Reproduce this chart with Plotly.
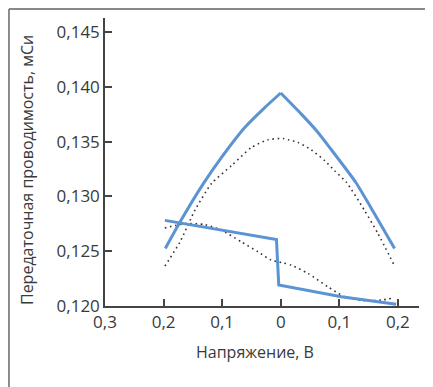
import plotly.graph_objects as go

# --- data (voltage, V ; transconductance, mS) ---
upper_solid_x = [-0.197, -0.172, -0.1324, -0.1011, -0.0614, -0.0273, 0.0, 0.0352, 0.0636, 0.092, 0.128, 0.160, 0.1943]
upper_solid_y = [0.12525, 0.12766, 0.13115, 0.13357, 0.13630, 0.13812, 0.13945, 0.13752, 0.13585, 0.13388, 0.1313, 0.12843, 0.12525]

upper_dot_x = [-0.1977, -0.172, -0.1466, -0.118, -0.084, -0.050, -0.0216, 0.004, 0.0125, 0.0295, 0.0523, 0.075, 0.092, 0.112, 0.143, 0.166, 0.193]
upper_dot_y = [0.12364, 0.12585, 0.12873, 0.1312, 0.13282, 0.13448, 0.13518, 0.1353, 0.13518, 0.13494, 0.13425, 0.13327, 0.13236, 0.1313, 0.12873, 0.12661, 0.12379]

lower_solid_x = [-0.1977, -0.0073, -0.0034, 0.05, 0.1034, 0.197]
lower_solid_y = [0.12782, 0.12606, 0.12191, 0.12136, 0.12085, 0.12015]

lower_dot_x = [-0.198, -0.1636, -0.1295, -0.101, -0.067, -0.0387, -0.0159, 0.004, 0.018, 0.0466, 0.0806, 0.109, 0.143, 0.172, 0.189]
lower_dot_y = [0.12712, 0.12752, 0.12743, 0.12691, 0.12585, 0.12494, 0.12418, 0.12394, 0.12373, 0.12297, 0.12175, 0.12085, 0.12048, 0.12055, 0.1207]

x_tick_vals = [-0.3, -0.2, -0.1, 0.0, 0.1, 0.2]
x_tick_text = ["0,3", "0,2", "0,1", "0", "0,1", "0,2"]
y_tick_vals = [0.120, 0.125, 0.130, 0.135, 0.140, 0.145]
y_tick_text = ["0,120", "0,125", "0,130", "0,135", "0,140", "0,145"]

x_title = "Напряжение, В"
y_title = "Передаточная проводимость, мСи"

BLUE = "#5b93d3"
DOT = "#333333"
AX = "#444444"
FONT = "Open Sans"

# split the solid peak curve at its apex so the apex stays sharp
apex = upper_solid_y.index(max(upper_solid_y))

fig = go.Figure()
dot_line = dict(color=DOT, width=1.6, dash="1.6px,3.6px", shape="spline", smoothing=0.6)
fig.add_trace(go.Scatter(x=upper_dot_x, y=upper_dot_y, mode="lines", line=dot_line, hoverinfo="skip"))
fig.add_trace(go.Scatter(x=lower_dot_x, y=lower_dot_y, mode="lines", line=dot_line, hoverinfo="skip"))
solid_spline = dict(color=BLUE, width=3, shape="spline", smoothing=0.5)
fig.add_trace(go.Scatter(x=upper_solid_x[:apex + 1], y=upper_solid_y[:apex + 1], mode="lines",
                         line=solid_spline, hoverinfo="skip"))
fig.add_trace(go.Scatter(x=upper_solid_x[apex:], y=upper_solid_y[apex:], mode="lines",
                         line=solid_spline, hoverinfo="skip"))
fig.add_trace(go.Scatter(x=lower_solid_x, y=lower_solid_y, mode="lines",
                         line=dict(color=BLUE, width=3), hoverinfo="skip"))

# the page body has an 8px default margin: figure occupies page px 8..433 / 8..387
fig.update_layout(
    width=425, height=379,
    margin=dict(l=97, r=14, t=10, b=81, autoexpand=False),
    paper_bgcolor="white", plot_bgcolor="white",
    showlegend=False,
    font=dict(family=FONT, color="#3a3a3a", size=17),
    xaxis=dict(range=[-0.3, 0.236], tickmode="array", tickvals=x_tick_vals, ticktext=x_tick_text,
               ticks="inside", ticklen=7, tickwidth=1.5, tickcolor=AX, automargin=False,
               showline=True, linecolor=AX, linewidth=1.5, showgrid=False, zeroline=False,
               tickfont=dict(size=17, family=FONT, color="#3a3a3a")),
    yaxis=dict(range=[0.120, 0.1463], tickmode="array", tickvals=y_tick_vals, ticktext=y_tick_text,
               ticks="inside", ticklen=7, tickwidth=1.5, tickcolor=AX, automargin=False,
               showline=True, linecolor=AX, linewidth=1.5, showgrid=False, zeroline=False,
               tickfont=dict(size=17, family=FONT, color="#3a3a3a")),
    annotations=[
        dict(text=x_title, xref="paper", yref="paper", x=0.4777, y=-0.1597,
             xanchor="center", yanchor="middle", showarrow=False,
             font=dict(size=16, family=FONT, color="#3a3a3a")),
        dict(text=y_title, xref="paper", yref="paper", x=-0.2484, y=0.4722,
             xanchor="center", yanchor="middle", showarrow=False, textangle=-90,
             font=dict(size=16, family=FONT, color="#3a3a3a")),
    ],
    shapes=[
        dict(type="line", xref="paper", yref="paper", x0=-0.306, x1=1.1, y0=1.031, y1=1.031,
             line=dict(color="#888888", width=2)),
        dict(type="line", xref="paper", yref="paper", x0=-0.306, x1=-0.306, y0=1.031, y1=-0.4,
             line=dict(color="#888888", width=2)),
    ],
)

fig.write_html("out.html", config={"displayModeBar": False})
